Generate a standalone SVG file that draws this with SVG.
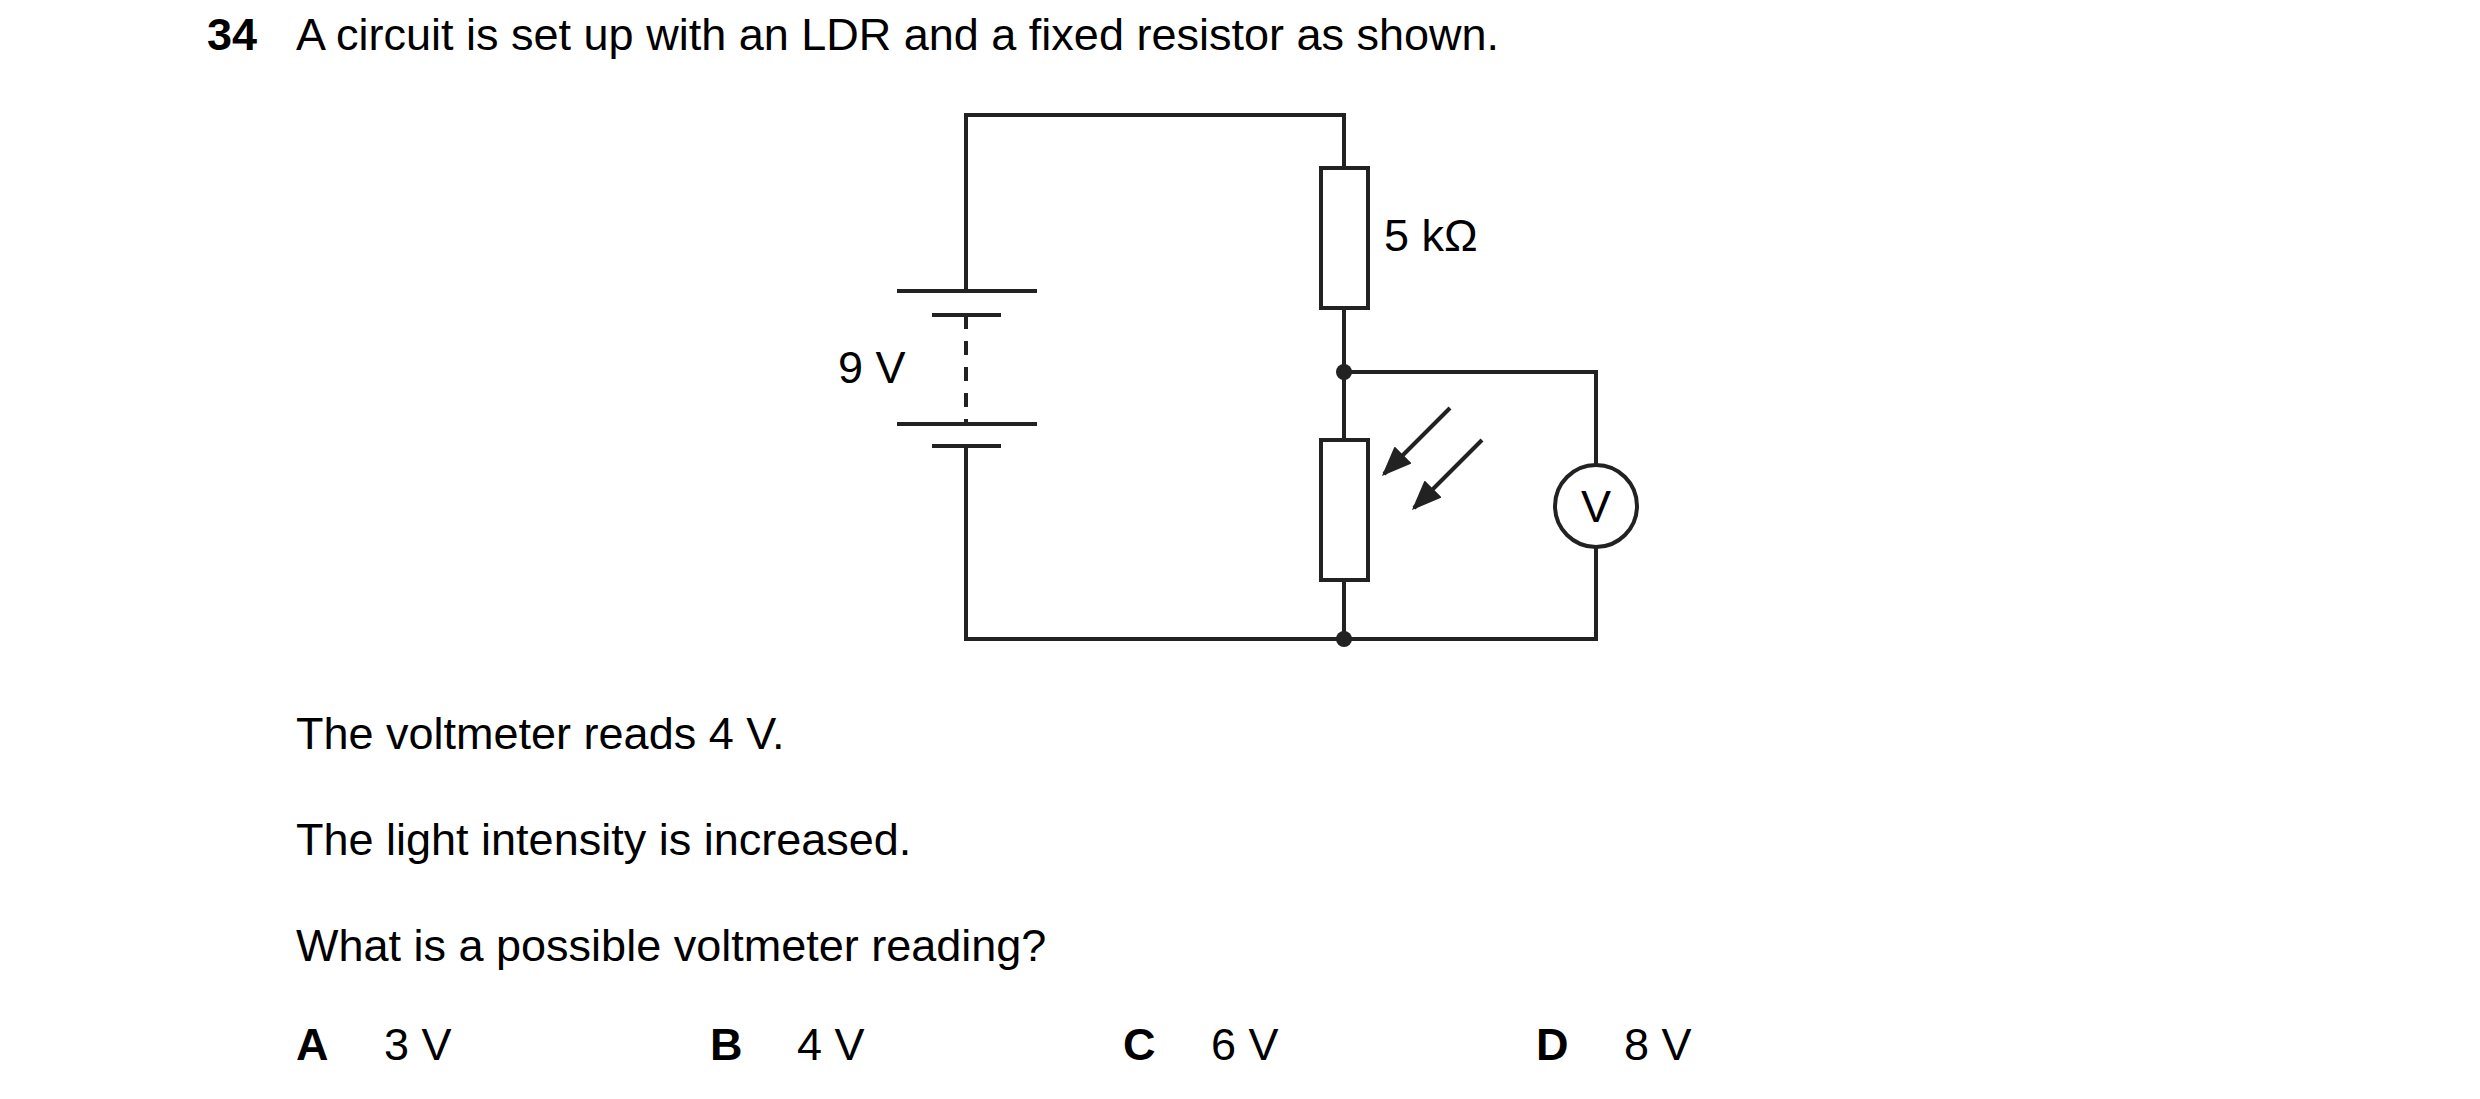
<svg xmlns="http://www.w3.org/2000/svg" width="2480" height="1099" viewBox="0 0 2480 1099">
<style>
text{font-family:"Liberation Sans",Arial,sans-serif;font-size:45px;fill:#000}
.b{font-weight:bold}
.w{fill:none;stroke:#222;stroke-width:4}
</style>
<defs>
<marker id="ah2" viewBox="0 0 10 8" refX="9" refY="4" markerWidth="30" markerHeight="24" markerUnits="userSpaceOnUse" orient="auto"><path d="M0,0 L10,4 L0,8 z" fill="#222"/></marker></defs>
<rect width="2480" height="1099" fill="#fff"/>
<text x="207" y="50" class="b">34</text>
<text x="296" y="50">A circuit is set up with an LDR and a fixed resistor as shown.</text>
<g id="connectors" class="w">
<path class="w" d="M966,291 V115 H1344 V168 M1344,308 V440 M1344,580 V639 H966 V446 M1344,372 H1596 V465 M1596,547 V639 H1344"/>
<path class="w" d="M966,315 V424" stroke-dasharray="14,12"/>
</g>
<g id="battery">
<path class="w" d="M897,291 H1037 M932,315 H1001 M897,424 H1037 M932,446 H1001"/>
<text x="838" y="383">9 V</text>
</g>
<g id="resistor"><rect class="w" x="1321" y="168" width="47" height="140"/><text x="1384" y="251">5 kΩ</text></g>
<g id="ldr"><rect class="w" x="1321" y="440" width="47" height="140"/>
<path class="w" d="M1450,408 L1384,474" marker-end="url(#ah2)"/>
<path class="w" d="M1482,440 L1414,508" marker-end="url(#ah2)"/></g>
<g id="voltmeter"><circle class="w" cx="1596" cy="506" r="41"/><text x="1596" y="522" text-anchor="middle">V</text></g>
<g id="junctions" fill="#222"><circle cx="1344" cy="372" r="8"/><circle cx="1344" cy="639" r="8"/></g>
<text x="296" y="749">The voltmeter reads 4 V.</text>
<text x="296" y="855">The light intensity is increased.</text>
<text x="296" y="961">What is a possible voltmeter reading?</text>
<text x="296" y="1060" class="b">A</text><text x="384" y="1060">3 V</text>
<text x="710" y="1060" class="b">B</text><text x="797" y="1060">4 V</text>
<text x="1123" y="1060" class="b">C</text><text x="1211" y="1060">6 V</text>
<text x="1536" y="1060" class="b">D</text><text x="1624" y="1060">8 V</text>
</svg>
